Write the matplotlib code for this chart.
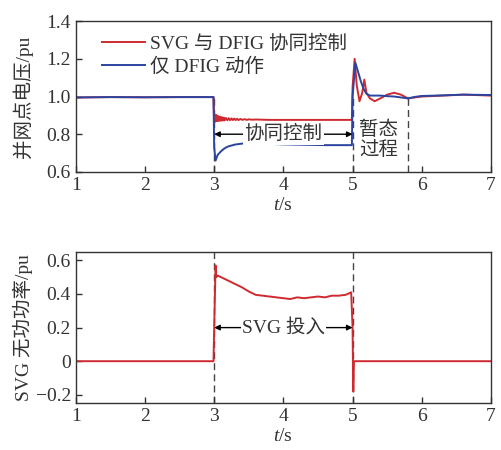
import matplotlib
matplotlib.use("Agg")
import matplotlib.pyplot as plt

plt.rcParams['font.family'] = ['Liberation Serif', 'Noto Sans CJK SC']
plt.rcParams['mathtext.fontset'] = 'custom'
plt.rcParams['mathtext.it'] = 'Liberation Serif:italic'
plt.rcParams['mathtext.rm'] = 'Liberation Serif'

RED = '#cf2a30'
BLUE = '#2b44a0'
INK = '#333333'

# voltage at point of common coupling, SVG + DFIG coordinated control
t_red = [1.0, 1.5, 2.0, 2.5, 2.99, 3.0,
         3.005, 3.01, 3.015, 3.02, 3.025, 3.03, 3.035, 3.04, 3.045, 3.05,
         3.06, 3.07, 3.08, 3.09, 3.1, 3.11, 3.12, 3.13, 3.14, 3.15,
         3.17, 3.19, 3.21, 3.23, 3.25, 3.27, 3.29, 3.31, 3.33, 3.35,
         3.38, 3.41, 3.44, 3.47, 3.5, 3.55, 3.6, 3.8, 4.2, 4.6, 4.99,
         5.0, 5.03, 5.06, 5.1, 5.14, 5.17, 5.2, 5.25, 5.32, 5.4, 5.5, 5.6, 5.7,
         5.8, 5.9, 6.0, 6.3, 6.6, 7.0]
v_red = [0.995, 0.997, 0.996, 0.997, 0.997, 0.86,
         0.905, 0.868, 0.903, 0.869, 0.901, 0.870, 0.899, 0.870, 0.897, 0.871,
         0.895, 0.871, 0.893, 0.872, 0.891, 0.872, 0.889, 0.873, 0.888, 0.873,
         0.886, 0.874, 0.885, 0.874, 0.884, 0.875, 0.883, 0.875, 0.882, 0.875,
         0.881, 0.876, 0.880, 0.876, 0.879, 0.877, 0.878, 0.876, 0.876, 0.876, 0.876,
         1.05, 1.2, 1.06, 0.975, 1.02, 1.09, 1.02, 0.99, 0.975, 0.99, 1.01, 1.02, 1.01,
         0.99, 0.995, 1.0, 1.005, 1.01, 1.005]

# voltage, DFIG only
t_blue = [1.0, 1.5, 2.0, 2.5, 2.99, 3.0, 3.02, 3.05, 3.1, 3.15, 3.2, 3.3, 3.4, 3.5,
          3.7, 4.0, 4.3, 4.6, 4.99, 5.0, 5.04, 5.08, 5.12, 5.16, 5.2, 5.25, 5.3,
          5.4, 5.5, 5.6, 5.7, 5.8, 5.9, 6.0, 6.3, 6.6, 7.0]
v_blue = [0.995, 0.997, 0.996, 0.997, 0.997, 0.73, 0.66, 0.69, 0.71, 0.725, 0.735, 0.745,
          0.75, 0.752, 0.75, 0.746, 0.744, 0.742, 0.742, 1.0, 1.18, 1.13, 1.08, 1.04,
          1.015, 1.005, 1.005, 1.005, 1.002, 1.0, 0.995, 0.99, 0.998, 1.003, 1.006, 1.01, 1.008]

# SVG reactive power output
t_q = [1.0, 2.0, 2.99, 3.0, 3.02, 3.03, 3.05, 3.1, 3.2, 3.3, 3.4, 3.5, 3.6, 3.7, 3.8, 3.9,
       4.0, 4.1, 4.2, 4.3, 4.4, 4.5, 4.6, 4.7, 4.8, 4.9, 4.98, 5.0, 5.01, 5.02, 6.0, 7.0]
q_svg = [0.0, 0.0, 0.0, 0.2, 0.57, 0.5, 0.51, 0.5, 0.48, 0.46, 0.44, 0.415, 0.395, 0.39,
         0.385, 0.38, 0.375, 0.37, 0.38, 0.375, 0.38, 0.385, 0.38, 0.39, 0.39, 0.395, 0.41,
         0.2, -0.18, 0.0, 0.0, 0.0]

xticks = [1, 2, 3, 4, 5, 6, 7]
v_ticks = [0.6, 0.8, 1.0, 1.2, 1.4]
q_ticks = [-0.2, 0, 0.2, 0.4, 0.6]
q_ticklabels = ['\u22120.2', '0', '0.2', '0.4', '0.6']

fig = plt.figure(figsize=(5.02, 4.5), dpi=100)
ax1 = fig.add_axes([0.151, 0.618, 0.827, 0.335])
ax2 = fig.add_axes([0.151, 0.104, 0.827, 0.336])

fs = 14

def style(ax):
    for s in ax.spines.values():
        s.set_color(INK)
        s.set_linewidth(1.0)
    ax.tick_params(direction='in', length=4, width=1, color=INK,
                   labelcolor=INK, labelsize=fs, top=False, right=False)
    ax.set_xlim(1, 7)
    ax.set_xticks(xticks)

# top panel
ax1.plot(t_red, v_red, color=RED, lw=1.4, label='SVG 与 DFIG 协同控制')
ax1.plot(t_blue, v_blue, color=BLUE, lw=1.4, label='仅 DFIG 动作')
style(ax1)
ax1.set_ylim(0.6, 1.4)
ax1.set_yticks(v_ticks)
ax1.set_yticklabels(['%.1f' % v for v in v_ticks])
ax1.set_ylabel('并网点电压/pu', fontsize=fs, color=INK, labelpad=10)
ax1.set_xlabel('$t$/s', fontsize=fs, color=INK, labelpad=2)
for x, top in [(3, 1.0), (5, 1.0), (5.8, 1.0)]:
    ax1.plot([x, x], [0.6, top], color='#444444', lw=1.0, ls=(0, (5, 3)), zorder=1)
ax1.annotate('', xy=(3.0, 0.8), xytext=(5.0, 0.8),
             arrowprops=dict(arrowstyle='<|-|>', color='black', lw=1.0,
                             shrinkA=0, shrinkB=0, mutation_scale=8))
ax1.text(4.0, 0.8, '协同控制', ha='center', va='center', fontsize=fs, color=INK,
         bbox=dict(facecolor='white', edgecolor='none', pad=1))
ax1.text(5.38, 0.77, '暂态\n过程', ha='center', va='center', fontsize=fs,
         color=INK, linespacing=1.2)
leg = ax1.legend(loc='upper left', bbox_to_anchor=(0.03, 1.0), frameon=False,
                 fontsize=fs, handlelength=2.2, handletextpad=0.3,
                 labelspacing=0.25, borderaxespad=0.3)
for txt in leg.get_texts():
    txt.set_color(INK)

# bottom panel
ax2.plot(t_q, q_svg, color=RED, lw=1.4)
style(ax2)
ax2.set_ylim(-0.25, 0.65)
ax2.set_yticks(q_ticks)
ax2.set_yticklabels(q_ticklabels)
ax2.set_ylabel('SVG 无功功率/pu', fontsize=fs, color=INK, labelpad=2)
ax2.set_xlabel('$t$/s', fontsize=fs, color=INK, labelpad=2)
for x in [3, 5]:
    ax2.plot([x, x], [-0.25, 0.65], color='#444444', lw=1.0, ls=(0, (5, 3)), zorder=1)
ax2.annotate('', xy=(3.0, 0.2), xytext=(5.0, 0.2),
             arrowprops=dict(arrowstyle='<|-|>', color='black', lw=1.0,
                             shrinkA=0, shrinkB=0, mutation_scale=8))
ax2.text(4.0, 0.2, 'SVG 投入', ha='center', va='center', fontsize=fs, color=INK,
         bbox=dict(facecolor='white', edgecolor='none', pad=1))

fig.savefig('out.png', dpi=100)
